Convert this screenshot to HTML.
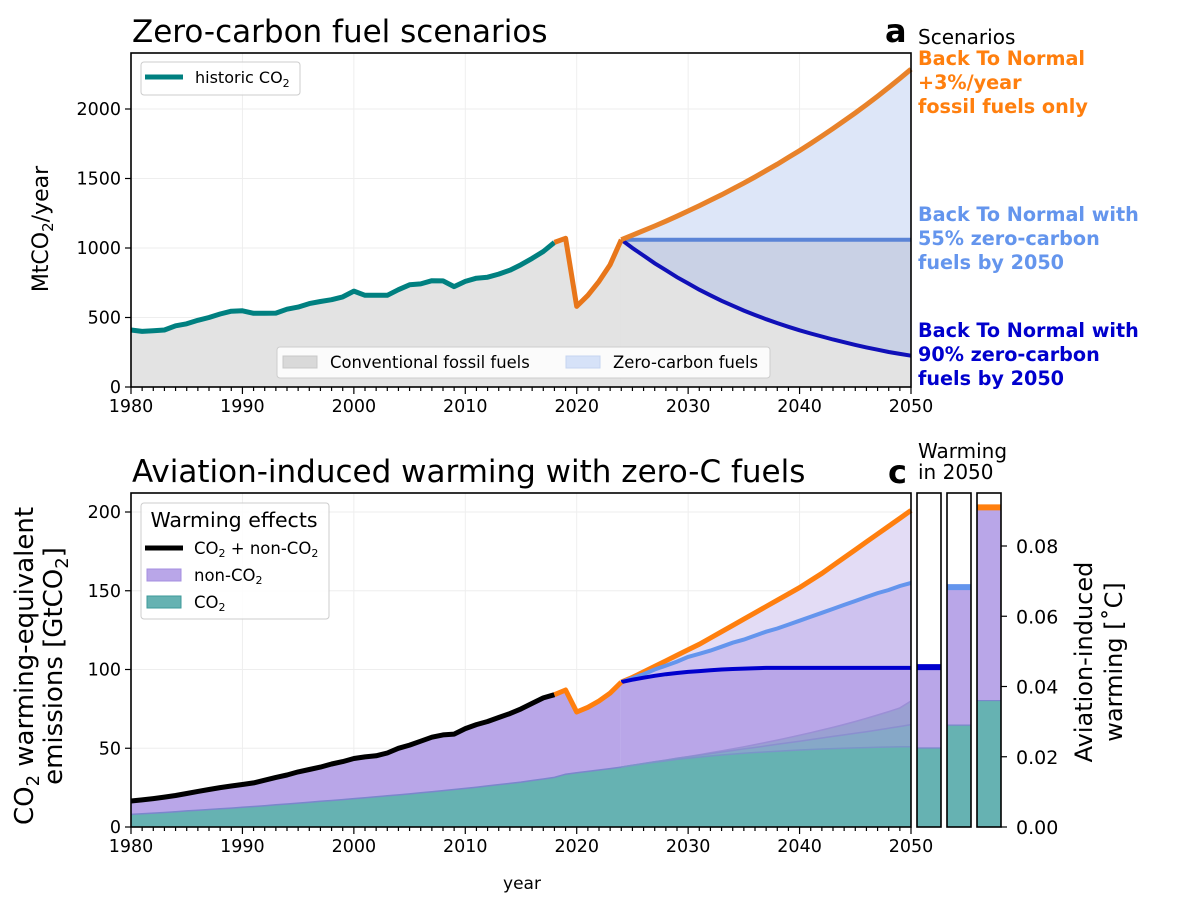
<!DOCTYPE html>
<html><head><meta charset="utf-8"><style>
body{margin:0;background:#fff;}
svg{font-family:"DejaVu Sans","Liberation Sans",sans-serif;}
</style></head><body>
<svg id="fig" width="1200" height="900" viewBox="0 0 1200 900" xmlns="http://www.w3.org/2000/svg">
<rect width="1200" height="900" fill="#fff"/>
<g id="g1"></g>
<g id="g2"></g>
<g id="g3"></g>
<text x="132" y="42" font-size="31">Zero-carbon fuel scenarios</text>
<text x="132" y="482" font-size="31">Aviation-induced warming with zero-C fuels</text>
<text x="885" y="42" font-size="32" font-weight="bold">a</text>
<text x="888" y="483" font-size="32" font-weight="bold">c</text>
<text x="918" y="44" font-size="20">Scenarios</text>
<g font-size="19.2" font-weight="bold" fill="#ff7f0e">
<text x="918" y="65">Back To Normal</text><text x="918" y="89">+3%/year</text><text x="918" y="113">fossil fuels only</text></g>
<g font-size="19.2" font-weight="bold" fill="#6495ed">
<text x="918" y="221">Back To Normal with</text><text x="918" y="245">55% zero-carbon</text><text x="918" y="269">fuels by 2050</text></g>
<g font-size="19.2" font-weight="bold" fill="#0000cd">
<text x="918" y="337">Back To Normal with</text><text x="918" y="361">90% zero-carbon</text><text x="918" y="385">fuels by 2050</text></g>
<text x="918" y="458" font-size="20"><tspan x="918">Warming</tspan><tspan x="918" dy="21">in 2050</tspan></text>
<text transform="translate(48,229) rotate(-90)" text-anchor="middle" font-size="22">MtCO<tspan font-size="15" dy="5">2</tspan><tspan dy="-5">/year</tspan></text>
<text transform="translate(33,666) rotate(-90)" text-anchor="middle" font-size="26">CO<tspan font-size="18" dy="6">2</tspan><tspan dy="-6"> warming-equivalent</tspan></text>
<text transform="translate(62,666) rotate(-90)" text-anchor="middle" font-size="26">emissions [GtCO<tspan font-size="18" dy="6">2</tspan><tspan dy="-6">]</tspan></text>
<text x="522" y="889" text-anchor="middle" font-size="17">year</text>
<text transform="translate(1092,662) rotate(-90)" text-anchor="middle" font-size="24">Aviation-induced</text>
<text transform="translate(1122,662) rotate(-90)" text-anchor="middle" font-size="24">warming [˚C]</text>
</svg>
<script>
const histYears=[1980,1981,1982,1983,1984,1985,1986,1987,1988,1989,1990,1991,1992,1993,1994,1995,1996,1997,1998,1999,2000,2001,2002,2003,2004,2005,2006,2007,2008,2009,2010,2011,2012,2013,2014,2015,2016,2017,2018];
const histCO2=[410,400,405,410,440,455,480,500,525,545,548,530,530,532,560,575,600,615,628,648,690,660,660,660,700,735,742,765,763,722,760,783,790,812,840,880,925,975,1040];
const covidYears=[2018,2019,2020,2021,2022,2023,2024];
const covidCO2=[1040,1070,580,660,760,880,1060];
const futYears=[2024,2025,2026,2027,2028,2029,2030,2031,2032,2033,2034,2035,2036,2037,2038,2039,2040,2041,2042,2043,2044,2045,2046,2047,2048,2049,2050];
const btnCO2=[1060,1092,1125,1158,1193,1229,1266,1304,1343,1383,1425,1467,1511,1557,1603,1652,1701,1752,1805,1859,1915,1972,2031,2092,2155,2220,2286];
const z55CO2=[1060,1060,1060,1060,1060,1060,1060,1060,1060,1060,1060,1060,1060,1060,1060,1060,1060,1060,1060,1060,1060,1060,1060,1060,1060,1060,1060];
const z90CO2=[1060,1000,945,890,840,790,745,700,660,620,585,550,518,488,460,433,408,385,363,342,322,303,285,268,252,238,225];
const topYTicks=[0,500,1000,1500,2000];
const xTicks=[1980,1990,2000,2010,2020,2030,2040,2050];
// bottom chart
const pastYears=[1980,1981,1982,1983,1984,1985,1986,1987,1988,1989,1990,1991,1992,1993,1994,1995,1996,1997,1998,1999,2000,2001,2002,2003,2004,2005,2006,2007,2008,2009,2010,2011,2012,2013,2014,2015,2016,2017,2018,2019,2020,2021,2022,2023,2024];
const pastTotal=[16.5,17.2,18,19,20,21.3,22.6,23.8,25,26,27,28,29.7,31.5,33,35,36.5,38,40,41.5,43.5,44.5,45.2,47,50,52,54.5,57,58.5,59,62.5,65,67,69.5,72,75,78.5,82,84,87,73,76,80,85,92];
const pastCO2=[8,8.4,8.8,9.2,9.7,10.2,10.6,11.1,11.6,12,12.5,13,13.5,14.1,14.6,15.2,15.7,16.3,16.8,17.4,18,18.6,19.2,19.8,20.4,21,21.7,22.4,23.1,23.8,24.5,25.3,26.1,26.9,27.7,28.5,29.5,30.5,31.5,33.5,34.5,35.3,36.2,37.1,38];
const btnTotal=[92,95,98.5,102,105.5,109,112.5,116,120,124,128,132,136,140,144,148,152,156.5,161,166,171,176,181,186,191,196,201];
const z55Total=[92,94.5,97,100,102.5,105,108,110,112,114.5,117,119,121.5,124,126,128.5,131,133.5,136,138.5,141,143.5,146,148.5,150.5,153,155];
const z90Total=[92,93.5,94.8,96,97,97.8,98.5,99,99.5,100,100.3,100.6,100.8,101,101,101,101,101,101,101,101,101,101,101,101,101,101];
const btnCO2e=[38,39.2,40.3,41.4,42.5,43.6,44.7,45.9,47.1,48.3,49.6,50.9,52.3,53.7,55.2,56.7,58.3,59.9,61.6,63.3,65.1,67,69,71.1,73.3,75.6,80];
const z55CO2e=[38,39.2,40.3,41.4,42.5,43.6,44.6,45.6,46.6,47.6,48.6,49.6,50.5,51.5,52.5,53.5,54.5,55.5,56.5,57.5,58.5,59.5,60.5,61.6,62.7,63.8,65];
const z90CO2e=[38,39.1,40.1,41.1,42,42.9,43.7,44.4,45.1,45.7,46.3,46.8,47.3,47.7,48.1,48.5,48.9,49.2,49.5,49.8,50,50.2,50.4,50.6,50.8,50.9,51];
const botYTicks=[0,50,100,150,200];
// bars (warming in 2050, deg C): 90%, 55%, BTN
const barNames=['z90','z55','btn'];
const barCO2=[0.0225,0.029,0.036];
const barTotal=[0.0455,0.0683,0.091];
const barColors=['#0000cd','#6495ed','#ff7f0e'];
const rightTicks=[0,0.02,0.04,0.06,0.08];
const rightTickLabels=['0.00','0.02','0.04','0.06','0.08'];

const NS='http://www.w3.org/2000/svg';
const X0=131,X1=911;
const sx=y=>X0+(y-1980)*(X1-X0)/70;
const T0=387,T1=53; const syT=v=>T0-v*(387-109)/2000;
const B0=827,B1=493; const syB=v=>B0-v*(827-512)/200;
const R0=827; const syR=v=>R0-v*(70.25/0.02);
function el(p,tag,attrs){const e=document.createElementNS(NS,tag);for(const k in attrs)e.setAttribute(k,attrs[k]);p.appendChild(e);return e;}
function pts(xs,vs,sy){return xs.map((x,i)=>sx(x).toFixed(1)+','+sy(vs[i]).toFixed(1));}
function linePath(xs,vs,sy){return 'M'+pts(xs,vs,sy).join('L');}
function bandPath(xs,top,bot,sy){const a=pts(xs,top,sy);const b=pts(xs,bot,sy).reverse();return 'M'+a.join('L')+'L'+b.join('L')+'Z';}
const zeros=futYears.map(()=>0);

function axes(g,top,bot,yt,sy){
  xTicks.forEach(t=>{const l=el(g,'line',{x1:sx(t),x2:sx(t),y1:top,y2:bot,stroke:'#eee','stroke-width':1});
  
  });
  yt.forEach(t=>{const l=el(g,'line',{x1:X0,x2:X1,y1:sy(t),y2:sy(t),stroke:'#eee','stroke-width':1});
  
  });
}
function frame(g,top,bot,yt,sy){
  const r=el(g,'rect',{x:X0,y:top,width:X1-X0,height:bot-top,fill:'none',stroke:'#000','stroke-width':1.6});
  
  
  for(let y=1980;y<=2050;y++){const major=(y%10===0);
    const l=el(g,'line',{x1:sx(y),x2:sx(y),y1:bot,y2:bot+(major?7:4),stroke:'#000','stroke-width':1.2});
    
    }
  xTicks.forEach(t=>{const tx=el(g,'text',{x:sx(t),y:bot+25,'text-anchor':'middle','font-size':17.5});tx.textContent=t;
    
    });
  yt.forEach(t=>{const l=el(g,'line',{x1:X0-6,x2:X0,y1:sy(t),y2:sy(t),stroke:'#000','stroke-width':1.2});
    
    
    const tx=el(g,'text',{x:X0-10,y:sy(t)+6,'text-anchor':'end','font-size':17.5});tx.textContent=t;
    
    });
}
// TOP
const g1=document.getElementById('g1');
axes(g1,T1,T0,topYTicks,syT);
let p;
p=el(g1,'path',{d:bandPath(histYears,histCO2,histYears.map(()=>0),syT),fill:'#e3e3e3',stroke:'#e3e3e3','stroke-width':0.8});


p=el(g1,'path',{d:bandPath(covidYears,covidCO2,covidYears.map(()=>0),syT),fill:'#e3e3e3',stroke:'#e3e3e3','stroke-width':0.8});


p=el(g1,'path',{d:bandPath(futYears,z90CO2,zeros,syT),fill:'#e3e3e3',stroke:'#e3e3e3','stroke-width':0.8});


p=el(g1,'path',{d:bandPath(futYears,btnCO2,z90CO2,syT),fill:'#dde6f8'});


p=el(g1,'path',{d:bandPath(futYears,z55CO2,z90CO2,syT),fill:'#c9d1e5'});


p=el(g1,'path',{d:linePath(futYears,z55CO2,syT),fill:'none',stroke:'#5b84d6','stroke-width':4});


p=el(g1,'path',{d:linePath(futYears,z90CO2,syT),fill:'none',stroke:'#1010b8','stroke-width':4});


p=el(g1,'path',{d:linePath(histYears,histCO2,syT),fill:'none',stroke:'#008080','stroke-width':5,'stroke-linejoin':'round'});


p=el(g1,'path',{d:linePath(covidYears,covidCO2,syT),fill:'none',stroke:'#e8761a','stroke-width':5,'stroke-linejoin':'round'});


p=el(g1,'path',{d:linePath(futYears,btnCO2,syT),fill:'none',stroke:'#e8822a','stroke-width':5});


frame(g1,T1,T0,topYTicks,syT);
// top legends
let lg=el(g1,'g',{});


el(lg,'rect',{x:141,y:62,width:159,height:33,rx:3,fill:'#fff','fill-opacity':0.85,stroke:'#ccc'});
el(lg,'line',{x1:145,x2:183,y1:77,y2:77,stroke:'#008080','stroke-width':5});
let tt=el(lg,'text',{x:195,y:83,'font-size':16});tt.innerHTML='historic CO<tspan font-size="11" dy="4">2</tspan>';
lg=el(g1,'g',{});


el(lg,'rect',{x:277,y:347,width:493,height:31,rx:3,fill:'#fff','fill-opacity':0.85,stroke:'#ccc'});
el(lg,'rect',{x:283,y:356,width:34,height:12,fill:'#d9d9d9',stroke:'#c8c8c8'});
tt=el(lg,'text',{x:330,y:368,'font-size':16.4});tt.textContent='Conventional fossil fuels';
el(lg,'rect',{x:566,y:356,width:34,height:12,fill:'#d6e2f8',stroke:'#c5d4f0'});
tt=el(lg,'text',{x:613,y:368,'font-size':16.4});tt.textContent='Zero-carbon fuels';

// BOTTOM
const g2=document.getElementById('g2');
axes(g2,B1,B0,botYTicks,syB);
const pZeros=pastYears.map(()=>0);
const layers=[
 [pastYears,pastTotal,pZeros,'#b9a6e8','noncO2-past'],
 [futYears,btnTotal,zeros,'#e3dcf5','noncO2-btn'],
 [futYears,z55Total,zeros,'#cec2ef','noncO2-55'],
 [futYears,z90Total,zeros,'#b9a6e8','noncO2-90'],
 [futYears,btnCO2e,zeros,'#9aa0d2','co2-btn'],
 [futYears,z55CO2e,zeros,'#86a8c8','co2-55'],
 [futYears,z90CO2e,zeros,'#66b2b2','co2-90'],
 [pastYears,pastCO2,pZeros,'#66b2b2','co2-past']];
layers.forEach(L=>{const q=el(g2,'path',{d:bandPath(L[0],L[1],L[2],syB),fill:L[3],stroke:L[3],'stroke-width':0.8});
 
 });
[[btnCO2e,'#9b8fd6'],[z55CO2e,'#8a8fcf'],[z90CO2e,'#7a95c8']].forEach(L=>{const q=el(g2,'path',{d:linePath(futYears,L[0],syB),fill:'none',stroke:L[1],'stroke-width':1.5});
 
 });
p=el(g2,'path',{d:linePath(pastYears,pastCO2,syB),fill:'none',stroke:'#7b86cc','stroke-width':1.5});


const hy=pastYears.filter(y=>y<=2018), ht=pastTotal.slice(0,hy.length);
const cy=pastYears.filter(y=>y>=2018), ct=pastTotal.slice(pastYears.indexOf(2018));
p=el(g2,'path',{d:linePath(hy,ht,syB),fill:'none',stroke:'#000','stroke-width':5,'stroke-linejoin':'round'});


p=el(g2,'path',{d:linePath(futYears,btnTotal,syB),fill:'none',stroke:'#ff7f0e','stroke-width':5});


p=el(g2,'path',{d:linePath(futYears,z55Total,syB),fill:'none',stroke:'#6495ed','stroke-width':4});


p=el(g2,'path',{d:linePath(futYears,z90Total,syB),fill:'none',stroke:'#0000cd','stroke-width':4});


p=el(g2,'path',{d:linePath(cy,ct,syB),fill:'none',stroke:'#ff7f0e','stroke-width':5,'stroke-linejoin':'round'});


frame(g2,B1,B0,botYTicks,syB);
lg=el(g2,'g',{});


el(lg,'rect',{x:141,y:503,width:188,height:116,rx:3,fill:'#fff','fill-opacity':0.85,stroke:'#ccc'});
tt=el(lg,'text',{x:234,y:527,'text-anchor':'middle','font-size':20.5});tt.textContent='Warming effects';
el(lg,'line',{x1:145,x2:183,y1:548,y2:548,stroke:'#000','stroke-width':5});
tt=el(lg,'text',{x:194,y:554,'font-size':16.5});tt.innerHTML='CO<tspan font-size="11" dy="3">2</tspan><tspan dy="-3"> + non-CO</tspan><tspan font-size="11" dy="3">2</tspan>';
el(lg,'rect',{x:147,y:569,width:34,height:12,fill:'#b9a6e8',stroke:'#a58fe0'});
tt=el(lg,'text',{x:194,y:581,'font-size':16.5});tt.innerHTML='non-CO<tspan font-size="11" dy="3">2</tspan>';
el(lg,'rect',{x:147,y:596,width:34,height:12,fill:'#66b2b2',stroke:'#3d9a9a'});
tt=el(lg,'text',{x:194,y:608,'font-size':16.5});tt.innerHTML='CO<tspan font-size="11" dy="3">2</tspan>';

// BARS
const g3=document.getElementById('g3');
const bx=[917,947,977], bw=24;
barNames.forEach((n,i)=>{
  let r=el(g3,'rect',{x:bx[i],y:syR(barCO2[i]),width:bw,height:R0-syR(barCO2[i]),fill:'#66b2b2'});
  
  
  r=el(g3,'rect',{x:bx[i],y:syR(barTotal[i]),width:bw,height:syR(barCO2[i])-syR(barTotal[i]),fill:'#b9a6e8'});
  
  
  r=el(g3,'line',{x1:bx[i],x2:bx[i]+bw,y1:syR(barCO2[i]),y2:syR(barCO2[i]),stroke:'#7b86cc','stroke-width':1.2});
  
  
  r=el(g3,'line',{x1:bx[i],x2:bx[i]+bw,y1:syR(barTotal[i]),y2:syR(barTotal[i]),stroke:barColors[i],'stroke-width':6});
  
  
  r=el(g3,'rect',{x:bx[i],y:B1,width:bw,height:B0-B1,fill:'none',stroke:'#000','stroke-width':1.6});
  
  
});
rightTicks.forEach((t,i)=>{
  const l=el(g3,'line',{x1:1001,x2:1007,y1:syR(t),y2:syR(t),stroke:'#000','stroke-width':1.2});
  
  
  const tx=el(g3,'text',{x:1016,y:syR(t)+7,'font-size':19});tx.textContent=rightTickLabels[i];
  
  
});
</script>
</body></html>
